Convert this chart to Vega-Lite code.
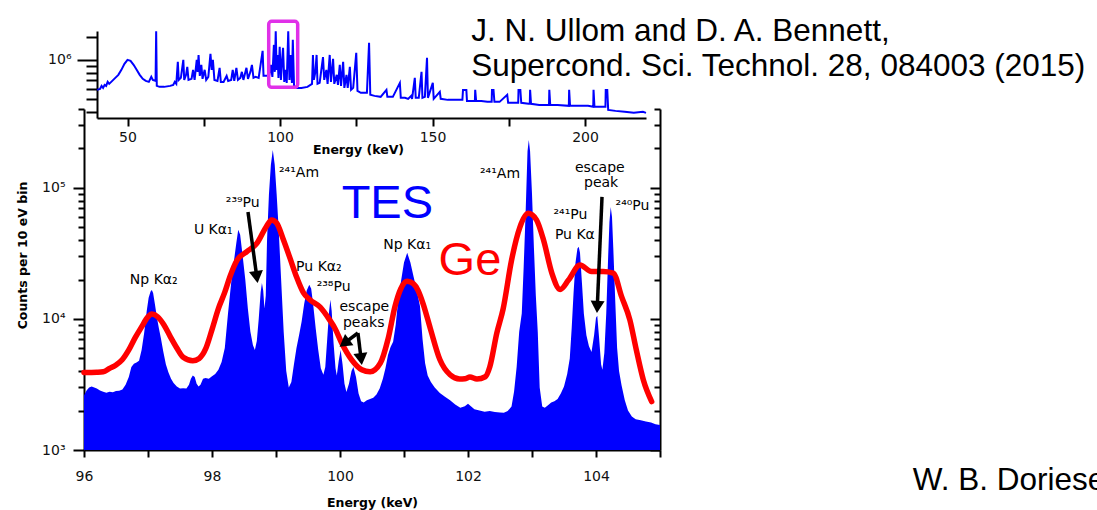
{
  "$schema": "https://vega.github.io/schema/vega-lite/v6.json",
  "width": 576,
  "height": 341,
  "autosize": {"type": "none"},
  "padding": {"left": 84, "top": 109, "right": 437, "bottom": 60},
  "background": "white",
  "config": {
    "view": {"stroke": null},
    "axis": {
      "grid": false,
      "domainColor": "black",
      "domainWidth": 2,
      "tickColor": "black",
      "tickWidth": 2,
      "labelColor": "#111111",
      "labelFont": "DejaVu Sans",
      "labelFontSize": 14,
      "titleFont": "DejaVu Sans",
      "titleFontWeight": "bold",
      "titleFontSize": 12.5,
      "titleColor": "black",
      "labelFlush": false,
      "labelOverlap": false
    }
  },
  "datasets": {
    "tes": [
      {"x":96.00,"y":2600},{"x":96.04,"y":2850},{"x":96.08,"y":3000},{"x":96.12,"y":3050},{"x":96.16,"y":3000},{"x":96.20,"y":2950},{"x":96.25,"y":2850},{"x":96.30,"y":2780},{"x":96.35,"y":2740},{"x":96.40,"y":2780},{"x":96.45,"y":2760},{"x":96.50,"y":2820},{"x":96.55,"y":2830},{"x":96.60,"y":2900},{"x":96.65,"y":3150},{"x":96.70,"y":3600},{"x":96.74,"y":4300},{"x":96.78,"y":4550},{"x":96.82,"y":4650},{"x":96.86,"y":4800},{"x":96.90,"y":5800},{"x":96.94,"y":7800},{"x":96.98,"y":11500},{"x":97.01,"y":14500},{"x":97.04,"y":16200},{"x":97.06,"y":16600},{"x":97.08,"y":15800},{"x":97.11,"y":12800},{"x":97.14,"y":10200},{"x":97.17,"y":8500},{"x":97.20,"y":7200},{"x":97.24,"y":5600},{"x":97.28,"y":4500},{"x":97.32,"y":3900},{"x":97.36,"y":3500},{"x":97.40,"y":3250},{"x":97.45,"y":3050},{"x":97.50,"y":2950},{"x":97.55,"y":2960},{"x":97.60,"y":2950},{"x":97.64,"y":3150},{"x":97.67,"y":3500},{"x":97.70,"y":3700},{"x":97.73,"y":3600},{"x":97.76,"y":3200},{"x":97.79,"y":3050},{"x":97.82,"y":3150},{"x":97.86,"y":3500},{"x":97.90,"y":3550},{"x":97.95,"y":3500},{"x":98.00,"y":3650},{"x":98.05,"y":3800},{"x":98.10,"y":4100},{"x":98.15,"y":4700},{"x":98.20,"y":6000},{"x":98.25,"y":11000},{"x":98.30,"y":19000},{"x":98.34,"y":27000},{"x":98.38,"y":38000},{"x":98.41,"y":48000},{"x":98.44,"y":44000},{"x":98.48,"y":30000},{"x":98.52,"y":20000},{"x":98.56,"y":12000},{"x":98.60,"y":8000},{"x":98.64,"y":6300},{"x":98.67,"y":5800},{"x":98.70,"y":6800},{"x":98.73,"y":10000},{"x":98.76,"y":16000},{"x":98.78,"y":18800},{"x":98.80,"y":16500},{"x":98.82,"y":12000},{"x":98.84,"y":15000},{"x":98.86,"y":40000},{"x":98.89,"y":90000},{"x":98.92,"y":150000},{"x":98.95,"y":195000},{"x":98.98,"y":150000},{"x":99.01,"y":90000},{"x":99.04,"y":50000},{"x":99.08,"y":20000},{"x":99.12,"y":8000},{"x":99.16,"y":4000},{"x":99.20,"y":3000},{"x":99.24,"y":3300},{"x":99.28,"y":4500},{"x":99.32,"y":6000},{"x":99.36,"y":7500},{"x":99.40,"y":9500},{"x":99.44,"y":13000},{"x":99.48,"y":16500},{"x":99.52,"y":18200},{"x":99.55,"y":17000},{"x":99.58,"y":13000},{"x":99.62,"y":8500},{"x":99.66,"y":5800},{"x":99.70,"y":4200},{"x":99.74,"y":3750},{"x":99.77,"y":4300},{"x":99.80,"y":7000},{"x":99.83,"y":11500},{"x":99.85,"y":14000},{"x":99.87,"y":11500},{"x":99.90,"y":6500},{"x":99.93,"y":4200},{"x":99.95,"y":3700},{"x":99.98,"y":4800},{"x":100.01,"y":5800},{"x":100.04,"y":4500},{"x":100.07,"y":3200},{"x":100.10,"y":2770},{"x":100.14,"y":3200},{"x":100.18,"y":4000},{"x":100.21,"y":4300},{"x":100.25,"y":3600},{"x":100.29,"y":2700},{"x":100.33,"y":2350},{"x":100.37,"y":2300},{"x":100.42,"y":2400},{"x":100.47,"y":2450},{"x":100.52,"y":2500},{"x":100.57,"y":2650},{"x":100.62,"y":2950},{"x":100.67,"y":3500},{"x":100.71,"y":4200},{"x":100.75,"y":5300},{"x":100.79,"y":6100},{"x":100.83,"y":6700},{"x":100.87,"y":9000},{"x":100.91,"y":14000},{"x":100.95,"y":19000},{"x":101.00,"y":27000},{"x":101.05,"y":32000},{"x":101.10,"y":27000},{"x":101.15,"y":21000},{"x":101.20,"y":16500},{"x":101.25,"y":12500},{"x":101.29,"y":7000},{"x":101.33,"y":4600},{"x":101.37,"y":3700},{"x":101.42,"y":3300},{"x":101.48,"y":3000},{"x":101.56,"y":2720},{"x":101.64,"y":2550},{"x":101.72,"y":2400},{"x":101.80,"y":2220},{"x":101.88,"y":2100},{"x":101.95,"y":2160},{"x":102.00,"y":2250},{"x":102.05,"y":2150},{"x":102.10,"y":2050},{"x":102.18,"y":2000},{"x":102.26,"y":1960},{"x":102.34,"y":1980},{"x":102.42,"y":1950},{"x":102.50,"y":1930},{"x":102.56,"y":1920},{"x":102.62,"y":1980},{"x":102.68,"y":2150},{"x":102.72,"y":2800},{"x":102.76,"y":4300},{"x":102.80,"y":8000},{"x":102.84,"y":11000},{"x":102.87,"y":25000},{"x":102.90,"y":64000},{"x":102.93,"y":190000},{"x":102.95,"y":232000},{"x":102.97,"y":190000},{"x":103.00,"y":90000},{"x":103.03,"y":35000},{"x":103.06,"y":15000},{"x":103.09,"y":8000},{"x":103.12,"y":3000},{"x":103.16,"y":2150},{"x":103.20,"y":2100},{"x":103.25,"y":2200},{"x":103.30,"y":2300},{"x":103.35,"y":2350},{"x":103.40,"y":2450},{"x":103.45,"y":2700},{"x":103.50,"y":3050},{"x":103.55,"y":3800},{"x":103.59,"y":5000},{"x":103.62,"y":8500},{"x":103.65,"y":16000},{"x":103.68,"y":27000},{"x":103.71,"y":34500},{"x":103.73,"y":35500},{"x":103.75,"y":32000},{"x":103.78,"y":19000},{"x":103.81,"y":11000},{"x":103.85,"y":7500},{"x":103.89,"y":6200},{"x":103.93,"y":5600},{"x":103.97,"y":7500},{"x":104.00,"y":10200},{"x":104.02,"y":10600},{"x":104.05,"y":7000},{"x":104.08,"y":4500},{"x":104.10,"y":4100},{"x":104.13,"y":5500},{"x":104.16,"y":11000},{"x":104.19,"y":30000},{"x":104.21,"y":55000},{"x":104.23,"y":71600},{"x":104.25,"y":60000},{"x":104.27,"y":35000},{"x":104.30,"y":14000},{"x":104.33,"y":6000},{"x":104.36,"y":4000},{"x":104.40,"y":3100},{"x":104.45,"y":2400},{"x":104.50,"y":2000},{"x":104.56,"y":1800},{"x":104.62,"y":1720},{"x":104.70,"y":1690},{"x":104.78,"y":1650},{"x":104.86,"y":1620},{"x":104.93,"y":1570},{"x":105.00,"y":1550}
    ],
    "ge": [
      {"x":96.00,"y":3900},{"x":96.20,"y":3920},{"x":96.30,"y":3950},{"x":96.40,"y":4200},{"x":96.50,"y":4450},{"x":96.60,"y":4900},{"x":96.70,"y":5800},{"x":96.80,"y":7200},{"x":96.90,"y":8700},{"x":97.00,"y":10400},{"x":97.06,"y":10900},{"x":97.15,"y":10400},{"x":97.25,"y":9000},{"x":97.35,"y":7300},{"x":97.45,"y":6000},{"x":97.55,"y":5100},{"x":97.70,"y":4800},{"x":97.80,"y":5000},{"x":97.90,"y":5900},{"x":98.00,"y":8300},{"x":98.10,"y":12000},{"x":98.20,"y":16000},{"x":98.28,"y":21000},{"x":98.39,"y":28000},{"x":98.54,"y":32500},{"x":98.70,"y":37700},{"x":98.85,"y":50800},{"x":98.93,"y":57000},{"x":99.01,"y":54000},{"x":99.11,"y":41000},{"x":99.22,"y":29000},{"x":99.32,"y":21000},{"x":99.43,"y":15800},{"x":99.53,"y":14000},{"x":99.69,"y":12300},{"x":99.84,"y":9800},{"x":99.92,"y":8500},{"x":100.03,"y":6500},{"x":100.18,"y":4900},{"x":100.34,"y":4100},{"x":100.47,"y":3950},{"x":100.63,"y":4600},{"x":100.75,"y":7000},{"x":100.86,"y":12500},{"x":100.95,"y":17000},{"x":101.05,"y":19400},{"x":101.15,"y":18500},{"x":101.22,"y":16500},{"x":101.30,"y":13000},{"x":101.41,"y":8500},{"x":101.56,"y":4900},{"x":101.72,"y":3750},{"x":101.87,"y":3480},{"x":101.95,"y":3500},{"x":102.03,"y":3600},{"x":102.14,"y":3480},{"x":102.27,"y":3620},{"x":102.34,"y":4300},{"x":102.45,"y":7800},{"x":102.55,"y":12000},{"x":102.68,"y":28000},{"x":102.81,"y":50000},{"x":102.94,"y":64000},{"x":103.07,"y":57000},{"x":103.18,"y":40000},{"x":103.31,"y":22400},{"x":103.44,"y":16800},{"x":103.57,"y":19800},{"x":103.75,"y":25800},{"x":103.93,"y":23000},{"x":104.11,"y":23000},{"x":104.27,"y":22400},{"x":104.40,"y":14800},{"x":104.53,"y":9800},{"x":104.63,"y":5800},{"x":104.74,"y":3420},{"x":104.87,"y":2340}
    ],
    "labels": [
      {"t":"Np Kα₂","x":97.09,"y":19900},
      {"t":"U Kα₁","x":98.02,"y":47800},
      {"t":"²³⁹Pu","x":98.48,"y":76700},
      {"t":"²⁴¹Am","x":99.36,"y":130000},
      {"t":"Pu Kα₂","x":99.67,"y":25000},
      {"t":"²³⁸Pu","x":99.9,"y":17500},
      {"t":"escape","x":100.38,"y":12400},
      {"t":"peaks","x":100.37,"y":9300},
      {"t":"Np Kα₁","x":101.05,"y":36700},
      {"t":"²⁴¹Am","x":102.5,"y":128000},
      {"t":"escape","x":104.06,"y":143000},
      {"t":"peak","x":104.08,"y":109000},
      {"t":"²⁴¹Pu","x":103.6,"y":62200},
      {"t":"Pu Kα","x":103.67,"y":43800},
      {"t":"²⁴⁰Pu","x":104.57,"y":73400}
    ],
    "big": [
      {"t":"TES","x":100.74,"y":75500,"k":"tes"},
      {"t":"Ge","x":102.03,"y":27700,"k":"ge"}
    ],
    "cite": [
      {"t":"J. N. Ullom and D. A. Bennett,","x":102.05,"y":1324000},
      {"t":"Supercond. Sci. Technol. 28, 084003 (2015)","x":102.05,"y":716000},
      {"t":"W. B. Doriese","x":108.95,"y":495}
    ],
    "shafts": [
      {"x":98.5625,"y":65600,"x2":98.70,"y2":20880},
      {"x":100.28,"y":7810,"x2":100.069,"y2":6530},
      {"x":100.28,"y":7810,"x2":100.33,"y2":4940},
      {"x":104.094,"y":85300,"x2":104.02,"y2":12350}
    ],
    "heads": [
      {"id":"a","x":98.70,"y":20880},
      {"id":"b","x":100.069,"y":6530},
      {"id":"c","x":100.33,"y":4940},
      {"id":"d","x":104.02,"y":12350}
    ],
    "inset": [
      {"x":40.0,"y":590000},{"x":41.0,"y":600000},{"x":41.5,"y":633000},{"x":42.0,"y":611000},{"x":42.5,"y":644000},{"x":43.0,"y":633000},{"x":43.5,"y":679000},{"x":44.0,"y":656000},{"x":45.0,"y":691000},{"x":46.0,"y":729000},{"x":47.0,"y":768000},{"x":48.0,"y":839000},{"x":49.0,"y":932000},{"x":50.0,"y":1000000},{"x":51.0,"y":983000},{"x":52.0,"y":916000},{"x":53.0,"y":839000},{"x":54.0,"y":768000},{"x":55.0,"y":716000},{"x":56.0,"y":691000},{"x":57.0,"y":679000},{"x":57.8,"y":742000},{"x":58.3,"y":703000},{"x":59.2,"y":691000},{"x":59.4,"y":1650000},{"x":59.6,"y":633000},{"x":60.5,"y":622000},{"x":62,"y":622000},{"x":64,"y":633000},{"x":65,"y":644000},{"x":65.5,"y":679000},{"x":66,"y":656000},{"x":66.5,"y":965000},{"x":66.8,"y":703000},{"x":67.5,"y":729000},{"x":68.3,"y":1000000},{"x":68.6,"y":703000},{"x":69.2,"y":768000},{"x":69.6,"y":884000},{"x":70,"y":703000},{"x":71,"y":716000},{"x":71.5,"y":839000},{"x":72,"y":703000},{"x":72.7,"y":1000000},{"x":73.0,"y":810000},{"x":73.3,"y":1090000},{"x":73.7,"y":755000},{"x":74.2,"y":916000},{"x":74.6,"y":716000},{"x":75.3,"y":839000},{"x":75.8,"y":703000},{"x":76.5,"y":742000},{"x":77.2,"y":1110000},{"x":77.6,"y":839000},{"x":78.0,"y":1000000},{"x":78.5,"y":703000},{"x":79.5,"y":691000},{"x":80.2,"y":869000},{"x":80.6,"y":679000},{"x":81.5,"y":679000},{"x":82.5,"y":755000},{"x":83,"y":691000},{"x":84,"y":703000},{"x":84.5,"y":839000},{"x":85,"y":691000},{"x":85.7,"y":869000},{"x":86.2,"y":703000},{"x":87,"y":729000},{"x":87.5,"y":810000},{"x":88,"y":703000},{"x":89,"y":869000},{"x":89.5,"y":716000},{"x":90.3,"y":810000},{"x":90.8,"y":916000},{"x":91.3,"y":729000},{"x":92,"y":742000},{"x":93,"y":729000},{"x":94.3,"y":1170000},{"x":94.6,"y":755000},{"x":95.5,"y":755000},{"x":96.5,"y":768000},{"x":97,"y":916000},{"x":97.5,"y":742000},{"x":98.0,"y":1300000},{"x":98.3,"y":810000},{"x":98.6,"y":1650000},{"x":98.9,"y":839000},{"x":99.2,"y":1090000},{"x":99.5,"y":729000},{"x":99.9,"y":1260000},{"x":100.3,"y":703000},{"x":100.7,"y":1000000},{"x":101.0,"y":1235000},{"x":101.4,"y":679000},{"x":101.8,"y":839000},{"x":102.2,"y":667000},{"x":102.7,"y":1650000},{"x":103.1,"y":703000},{"x":103.5,"y":1090000},{"x":103.9,"y":667000},{"x":104.2,"y":1420000},{"x":104.6,"y":633000},{"x":105.5,"y":611000},{"x":107,"y":611000},{"x":109,"y":622000},{"x":110.5,"y":656000},{"x":110.8,"y":1090000},{"x":111.1,"y":703000},{"x":111.6,"y":810000},{"x":112,"y":1090000},{"x":112.3,"y":656000},{"x":113,"y":667000},{"x":114.1,"y":1050000},{"x":114.5,"y":703000},{"x":115.2,"y":839000},{"x":115.6,"y":656000},{"x":116.3,"y":1090000},{"x":116.7,"y":679000},{"x":117.4,"y":1018000},{"x":117.8,"y":656000},{"x":118.6,"y":768000},{"x":119,"y":644000},{"x":119.6,"y":916000},{"x":120,"y":633000},{"x":120.7,"y":965000},{"x":121.1,"y":611000},{"x":121.8,"y":768000},{"x":122.2,"y":611000},{"x":122.9,"y":884000},{"x":123.3,"y":590000},{"x":124,"y":611000},{"x":125,"y":1130000},{"x":125.4,"y":580000},{"x":126.5,"y":560000},{"x":127.5,"y":560000},{"x":128.5,"y":560000},{"x":129.2,"y":1350000},{"x":129.6,"y":541000},{"x":131,"y":531000},{"x":133,"y":522000},{"x":134.9,"y":590000},{"x":135.2,"y":522000},{"x":137,"y":522000},{"x":139.3,"y":667000},{"x":139.6,"y":513000},{"x":141,"y":513000},{"x":142,"y":504000},{"x":143,"y":531000},{"x":143.3,"y":504000},{"x":144.2,"y":729000},{"x":144.5,"y":513000},{"x":145.5,"y":513000},{"x":146.4,"y":810000},{"x":146.7,"y":513000},{"x":147.5,"y":522000},{"x":148.2,"y":1036000},{"x":148.5,"y":513000},{"x":150.1,"y":667000},{"x":150.4,"y":504000},{"x":152.4,"y":570000},{"x":152.7,"y":504000},{"x":155,"y":495000},{"x":158,"y":495000},{"x":159.8,"y":495000},{"x":160.0,"y":590000},{"x":161.1,"y":590000},{"x":161.3,"y":486000},{"x":163,"y":486000},{"x":163.9,"y":486000},{"x":164.0,"y":590000},{"x":164.3,"y":486000},{"x":166,"y":486000},{"x":168,"y":478000},{"x":169.4,"y":478000},{"x":169.5,"y":590000},{"x":170.0,"y":590000},{"x":170.3,"y":478000},{"x":172,"y":478000},{"x":174.5,"y":541000},{"x":174.8,"y":470000},{"x":177,"y":470000},{"x":178.1,"y":470000},{"x":178.2,"y":590000},{"x":178.8,"y":590000},{"x":179.1,"y":470000},{"x":181.5,"y":462000},{"x":181.9,"y":462000},{"x":182,"y":590000},{"x":182.3,"y":462000},{"x":185,"y":453000},{"x":188.2,"y":453000},{"x":188.3,"y":590000},{"x":188.6,"y":453000},{"x":191,"y":453000},{"x":194.7,"y":446000},{"x":194.8,"y":590000},{"x":195.1,"y":446000},{"x":198,"y":446000},{"x":201,"y":446000},{"x":202.7,"y":438000},{"x":202.8,"y":590000},{"x":203.1,"y":438000},{"x":205,"y":438000},{"x":206.7,"y":438000},{"x":206.8,"y":590000},{"x":207.3,"y":590000},{"x":207.6,"y":415000},{"x":210,"y":408000},{"x":213,"y":401000},{"x":216,"y":394000},{"x":219,"y":401000},{"x":220,"y":394000}
    ],
    "box": [
      {"x":96.3,"x2":105.8,"y":617000,"y2":1970000}
    ]
  },
  "layer": [
    {
      "encoding": {
        "x": {
          "field": "x", "type": "quantitative",
          "scale": {"domain": [96, 105], "nice": false, "zero": false},
          "axis": {
            "orient": "bottom",
            "values": [96, 96.5, 97, 97.5, 98, 98.5, 99, 99.5, 100, 100.5, 101, 101.5, 102, 102.5, 103, 103.5, 104, 104.5, 105],
            "format": "d",
            "labelExpr": "datum.value % 2 === 0 ? datum.label : ''",
            "tickSize": 7,
            "labelPadding": 12,
            "title": "Energy (keV)",
            "titleX": 288,
            "titleY": 52,
            "titleAlign": "center",
            "titleBaseline": "middle"
          }
        },
        "y": {
          "field": "y", "type": "quantitative",
          "scale": {"type": "log", "domain": [1000, 400000], "nice": false},
          "axis": {
            "orient": "left",
            "values": [1000, 2000, 3000, 4000, 5000, 6000, 7000, 8000, 9000, 10000, 20000, 30000, 40000, 50000, 60000, 70000, 80000, 90000, 100000, 200000, 300000, 400000],
            "labelExpr": "datum.value == 1000 ? '10³' : datum.value == 10000 ? '10⁴' : datum.value == 100000 ? '10⁵' : ''",
            "tickSize": {"condition": {"test": "datum.value == 1000 || datum.value == 10000 || datum.value == 100000", "value": 11}, "value": 6},
            "labelPadding": 8,
            "title": "Counts per 10 eV bin",
            "titleX": -62,
            "titleY": 146,
            "titleAngle": -90,
            "titleAlign": "center",
            "titleBaseline": "middle"
          }
        }
      },
      "layer": [
        {
          "data": {"name": "tes"},
          "mark": {"type": "area", "color": "#0000ff", "interpolate": "linear"},
          "encoding": {"y2": {"datum": 1000}}
        },
        {
          "data": {"name": "ge"},
          "mark": {"type": "line", "color": "#ff0000", "strokeWidth": 5.5, "interpolate": "monotone", "strokeCap": "round"}
        },
        {
          "data": {"name": "shafts"},
          "mark": {"type": "rule", "color": "black", "strokeWidth": 3.5},
          "encoding": {"x2": {"field": "x2"}, "y2": {"field": "y2"}}
        },
        {
          "data": {"name": "heads"},
          "transform": [{"filter": "datum.id == 'a'"}],
          "mark": {"type": "point", "shape": "triangle-down", "filled": true, "color": "black", "opacity": 1, "size": 196, "angle": -8}
        },
        {
          "data": {"name": "heads"},
          "transform": [{"filter": "datum.id == 'b'"}],
          "mark": {"type": "point", "shape": "triangle-down", "filled": true, "color": "black", "opacity": 1, "size": 196, "angle": 53}
        },
        {
          "data": {"name": "heads"},
          "transform": [{"filter": "datum.id == 'c'"}],
          "mark": {"type": "point", "shape": "triangle-down", "filled": true, "color": "black", "opacity": 1, "size": 196, "angle": -7}
        },
        {
          "data": {"name": "heads"},
          "transform": [{"filter": "datum.id == 'd'"}],
          "mark": {"type": "point", "shape": "triangle-down", "filled": true, "color": "black", "opacity": 1, "size": 196, "angle": 3}
        },
        {
          "data": {"name": "labels"},
          "mark": {"type": "text", "font": "DejaVu Sans", "fontSize": 14, "color": "black", "align": "center", "baseline": "middle"},
          "encoding": {"text": {"field": "t"}}
        },
        {
          "data": {"name": "big"},
          "transform": [{"filter": "datum.k == 'tes'"}],
          "mark": {"type": "text", "font": "Liberation Sans", "fontSize": 47, "color": "#0000ff", "align": "center", "baseline": "middle"},
          "encoding": {"text": {"field": "t"}}
        },
        {
          "data": {"name": "big"},
          "transform": [{"filter": "datum.k == 'ge'"}],
          "mark": {"type": "text", "font": "Liberation Sans", "fontSize": 47, "color": "#ff0000", "align": "center", "baseline": "middle"},
          "encoding": {"text": {"field": "t"}}
        },
        {
          "data": {"name": "cite"},
          "mark": {"type": "text", "font": "Liberation Sans", "fontSize": 31.5, "color": "black", "align": "left", "baseline": "alphabetic"},
          "encoding": {"text": {"field": "t"}}
        }
      ]
    },
    {
      "data": {"name": "tes"},
      "mark": {"type": "point", "opacity": 0},
      "encoding": {
        "y": {
          "field": "y", "type": "quantitative",
          "scale": {"type": "log", "domain": [1000, 400000], "nice": false},
          "axis": {
            "orient": "right",
            "labels": false,
            "title": null,
            "values": [1000, 2000, 3000, 4000, 5000, 6000, 7000, 8000, 9000, 10000, 20000, 30000, 40000, 50000, 60000, 70000, 80000, 90000, 100000, 200000, 300000, 400000],
            "tickSize": {"condition": {"test": "datum.value == 1000 || datum.value == 10000 || datum.value == 100000", "value": -10}, "value": -6}
          }
        }
      }
    },
    {
      "encoding": {
        "x": {
          "field": "x", "type": "quantitative",
          "scale": {"domain": [40, 220], "range": [13, 562], "nice": false, "zero": false},
          "axis": {
            "orient": "bottom",
            "offset": -332,
            "values": [50, 75, 100, 125, 150, 175, 200],
            "format": "d",
            "labelExpr": "datum.value % 50 === 0 ? datum.label : ''",
            "tickSize": 8,
            "labelPadding": 4,
            "title": "Energy (keV)",
            "titleX": 274,
            "titleY": 31,
            "titleAlign": "center",
            "titleBaseline": "middle"
          }
        },
        "y": {
          "field": "y", "type": "quantitative",
          "scale": {"type": "log", "domain": [360000, 1660000], "range": [9, -78], "nice": false},
          "axis": {
            "orient": "left",
            "offset": -13,
            "values": [400000, 500000, 600000, 700000, 800000, 900000, 1000000, 1500000],
            "labelExpr": "datum.value == 1000000 ? '10⁶' : ''",
            "tickSize": {"condition": {"test": "datum.value == 1000000", "value": 20}, "value": 11},
            "labelPadding": 6,
            "title": null
          }
        }
      },
      "layer": [
        {
          "data": {"name": "inset"},
          "mark": {"type": "line", "color": "#0000ff", "strokeWidth": 2}
        },
        {
          "data": {"name": "box"},
          "mark": {"type": "rect", "fill": "white", "fillOpacity": 0, "stroke": "#e030e8", "strokeWidth": 3.5, "cornerRadius": 3},
          "encoding": {"x2": {"field": "x2"}, "y2": {"field": "y2"}}
        }
      ]
    }
  ],
  "resolve": {"scale": {"x": "independent", "y": "independent"}}
}
